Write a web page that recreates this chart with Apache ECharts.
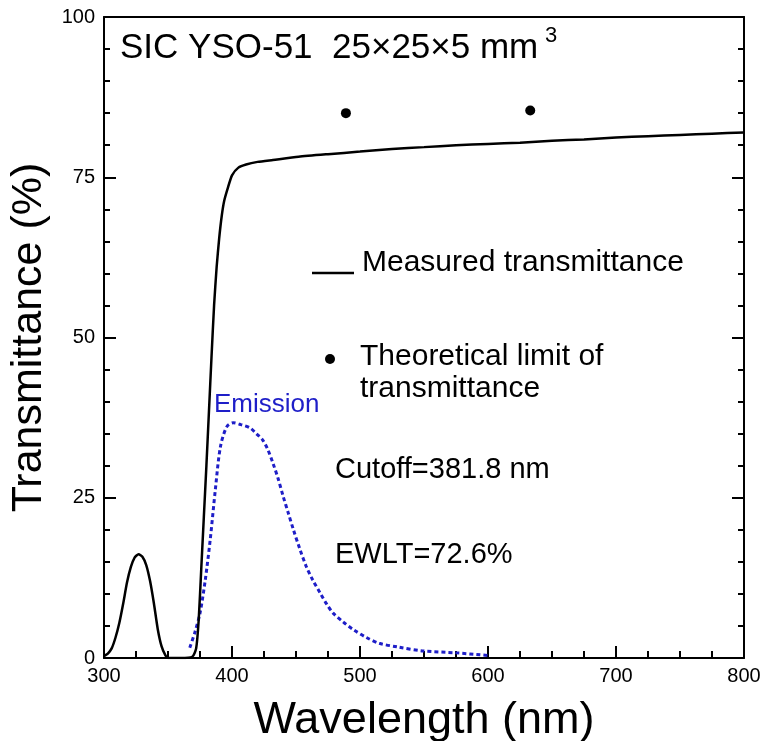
<!DOCTYPE html>
<html>
<head>
<meta charset="utf-8">
<script src="https://cdn.jsdelivr.net/npm/echarts@6/dist/echarts.min.js"></script>
<style>html,body{margin:0;padding:0;background:#fff}#c{width:764px;height:741px}</style>
</head>
<body>
<div id="c"></div>
<script>
const measuredX = [300,303,306,309,312,315,318,321,324,327,330,333,336,339,342,345,348,350,360,369,372,374,376,378,380,382,384,386,388,390,392,394,397,400,405,411,420,432,452,475,500,525,550,575,600,625,650,675,700,725,750,775,800];
const measuredY = [0.3,0.7,1.5,3.2,5.5,8.5,11.8,14.2,15.7,16.2,15.8,14.5,12,8.5,4.5,1.8,0.4,0,0,0.2,1.5,6,14,22,30,38.5,47,55,61,65.5,69,71.4,73.5,75.3,76.5,77,77.4,77.7,78.2,78.6,79.0,79.4,79.7,80.0,80.2,80.4,80.7,80.9,81.2,81.4,81.6,81.8,82];
const emissionX = [367,371,375,379,383,387,391,396,401,407,414,419,424,428,432,436,440,444,448,453,458,463,469,474,479,487,495,505,515,530,549,575,600];
const emissionY = [1.6,4,7,12,18.5,26.3,33,36.1,36.7,36.4,35.9,35,34,32.5,30.4,28,25.2,22.6,20,17,14.3,12.2,10.1,8.4,7,5.6,4.4,3.2,2.3,1.7,1.1,0.8,0.4];
const limitX = [489, 633];
const limitY = [85.0, 85.4];
const xTicks = [300, 400, 500, 600, 700, 800];
const yTicks = [0, 25, 50, 75, 100];

const FONT = '"Liberation Sans", Arial, sans-serif';
const chart = echarts.init(document.getElementById('c'));
const zip = (a, b) => a.map((v, i) => [v, b[i]]);

chart.setOption({
  animation: false,
  backgroundColor: '#fff',
  grid: { left: 104, right: 20, top: 17, bottom: 83, containLabel: false, outerBoundsMode: 'none' },
  xAxis: [{
    type: 'value', min: xTicks[0], max: xTicks[xTicks.length - 1], interval: 100,
    name: 'Wavelength (nm)', nameLocation: 'middle', nameGap: 40,
    nameTextStyle: { fontSize: 45, fontFamily: FONT, color: '#000' },
    axisLine: { lineStyle: { color: '#000', width: 2 } },
    axisTick: { inside: true, length: 12, lineStyle: { color: '#000', width: 2 } },
    minorTick: { show: true, splitNumber: 4, length: 7, lineStyle: { color: '#000', width: 2 } },
    axisLabel: { fontSize: 20, fontFamily: FONT, color: '#000', margin: 8 },
    splitLine: { show: false }
  }, {
    type: 'value', position: 'top', min: 300, max: 800,
    axisLine: { show: true, onZero: false, lineStyle: { color: '#000', width: 2 } },
    axisTick: { show: false }, axisLabel: { show: false }, splitLine: { show: false }
  }],
  yAxis: [{
    type: 'value', min: yTicks[0], max: yTicks[yTicks.length - 1], interval: 25,
    name: 'Transmittance (%)', nameLocation: 'middle', nameGap: 52,
    nameTextStyle: { fontSize: 43, fontFamily: FONT, color: '#000' },
    axisLine: { show: true, lineStyle: { color: '#000', width: 2 } },
    axisTick: { inside: true, length: 12, lineStyle: { color: '#000', width: 2 } },
    minorTick: { show: true, splitNumber: 5, length: 6, lineStyle: { color: '#000', width: 2 } },
    axisLabel: { fontSize: 20, fontFamily: FONT, color: '#000', margin: 9 },
    splitLine: { show: false }
  }, {
    type: 'value', position: 'right', min: 0, max: 100, interval: 25,
    axisLine: { show: true, onZero: false, lineStyle: { color: '#000', width: 2 } },
    axisTick: { inside: true, length: 12, lineStyle: { color: '#000', width: 2 } },
    minorTick: { show: true, splitNumber: 5, length: 6, lineStyle: { color: '#000', width: 2 } },
    axisLabel: { show: false }, splitLine: { show: false }
  }],
  series: [{
    name: 'Measured transmittance', type: 'line', data: zip(measuredX, measuredY),
    showSymbol: false, smooth: 0.2, lineStyle: { color: '#000', width: 2.5 }, z: 3
  }, {
    name: 'Emission', type: 'line', data: zip(emissionX, emissionY),
    showSymbol: false, smooth: 0.3, lineStyle: { color: '#1e1ec8', width: 3, type: [4, 3] }, z: 2
  }, {
    name: 'Theoretical limit of transmittance', type: 'scatter', data: zip(limitX, limitY),
    symbolSize: 10, itemStyle: { color: '#000', opacity: 1 }
  }],
  graphic: [
    { type: 'text', left: 120, top: 31, style: { text: 'SIC YSO-51  25×25×5 mm', font: '35px ' + FONT, fill: '#000' } },
    { type: 'text', left: 545, top: 25, style: { text: '3', font: '22px ' + FONT, fill: '#000' } },
    { type: 'line', shape: { x1: 312, y1: 273, x2: 354, y2: 273 }, style: { stroke: '#000', lineWidth: 2.5 } },
    { type: 'text', left: 362, top: 248, style: { text: 'Measured transmittance', font: '30px ' + FONT, fill: '#000' } },
    { type: 'circle', shape: { cx: 330, cy: 359, r: 5 }, style: { fill: '#000' } },
    { type: 'text', left: 360, top: 342, style: { text: 'Theoretical limit of', font: '30px ' + FONT, fill: '#000' } },
    { type: 'text', left: 360, top: 374, style: { text: 'transmittance', font: '30px ' + FONT, fill: '#000' } },
    { type: 'text', left: 214, top: 392, style: { text: 'Emission', font: '26px ' + FONT, fill: '#1e1ec8' } },
    { type: 'text', left: 335, top: 455, style: { text: 'Cutoff=381.8 nm', font: '29px ' + FONT, fill: '#000' } },
    { type: 'text', left: 335, top: 540, style: { text: 'EWLT=72.6%', font: '29px ' + FONT, fill: '#000' } }
  ]
});
</script>
</body>
</html>
